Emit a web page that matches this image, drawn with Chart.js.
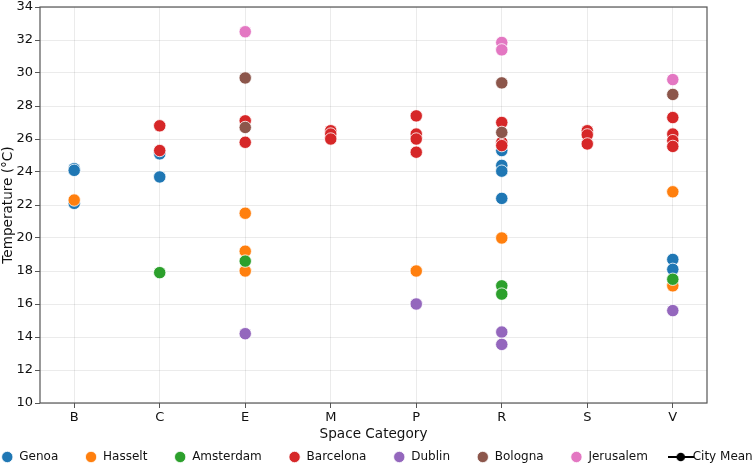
<!DOCTYPE html>
<html>
<head>
<meta charset="utf-8">
<script src="https://cdn.jsdelivr.net/npm/chart.js@4/dist/chart.umd.min.js"></script>
<style>
  html, body { margin: 0; padding: 0; background: #fff; }
  #box { width: 754px; height: 466px; }
</style>
</head>
<body>
<div id="box"><canvas id="myChart"></canvas></div>
<script>
// categories on the x axis
const categories = ["B", "C", "E", "M", "P", "R", "S", "V"];

// one pair of arrays per city: space category + temperature (°C)
const genoaSpace = ["B", "B", "B", "C", "C", "R", "R", "R", "R", "V", "V"];
const genoaTemp = [24.2, 24.1, 22.1, 25.1, 23.7, 25.3, 24.4, 24.05, 22.4, 18.7, 18.1];

const hasseltSpace = ["B", "E", "E", "E", "P", "R", "V", "V"];
const hasseltTemp = [22.3, 21.5, 19.2, 18.0, 18.0, 20.0, 22.8, 17.1];

const amsterdamSpace = ["C", "E", "R", "R", "V"];
const amsterdamTemp = [17.9, 18.6, 17.1, 16.6, 17.5];

const barcelonaSpace = ["C", "C", "E", "E", "M", "M", "M", "P", "P", "P", "P", "R", "R", "R", "S", "S", "S", "V", "V", "V", "V"];
const barcelonaTemp = [26.8, 25.3, 27.1, 25.8, 26.5, 26.3, 26.0, 27.4, 26.3, 26.0, 25.2, 27.0, 25.8, 25.6, 26.5, 26.25, 25.7, 27.3, 26.3, 25.9, 25.55];

const dublinSpace = ["E", "P", "R", "R", "V"];
const dublinTemp = [14.2, 16.0, 14.3, 13.55, 15.6];

const bolognaSpace = ["E", "E", "R", "R", "V"];
const bolognaTemp = [29.7, 26.7, 29.4, 26.4, 28.7];

const jerusalemSpace = ["E", "R", "R", "V"];
const jerusalemTemp = [32.5, 31.85, 31.4, 29.6];

const cityNames = ["Genoa", "Hasselt", "Amsterdam", "Barcelona", "Dublin", "Bologna", "Jerusalem"];
const citySpaces = [genoaSpace, hasseltSpace, amsterdamSpace, barcelonaSpace, dublinSpace, bolognaSpace, jerusalemSpace];
const cityTemps = [genoaTemp, hasseltTemp, amsterdamTemp, barcelonaTemp, dublinTemp, bolognaTemp, jerusalemTemp];
const cityColors = ["#1f77b4", "#ff7f0e", "#2ca02c", "#d62728", "#9467bd", "#8c564b", "#e377c2"];

Chart.defaults.font.family = "'DejaVu Sans', sans-serif";
Chart.defaults.color = "#111";

// legend glyph for "City Mean": short black line with a dot
let meanGlyph = document.createElement("canvas");
meanGlyph.width = 26;
meanGlyph.height = 10;
let g = meanGlyph.getContext("2d");
g.strokeStyle = "#000";
g.lineWidth = 2;
g.beginPath();
g.moveTo(0, 5);
g.lineTo(26, 5);
g.stroke();
g.fillStyle = "#000";
g.beginPath();
g.arc(13, 5, 4.3, 0, Math.PI * 2);
g.fill();

let datasets = cityNames.map((name, i) => ({
    label: name,
    data: citySpaces[i].map((s, j) => ({ x: categories.indexOf(s), y: cityTemps[i][j] })),
    backgroundColor: cityColors[i],
    borderColor: "#fff",
    borderWidth: 0.8,
    pointRadius: 6.2,
    pointHoverRadius: 6.2,
    pointStyle: "circle",
    order: -i, // later cities drawn on top
}));
datasets.push({
    label: "City Mean",
    data: [],
    backgroundColor: "#000",
    borderColor: "#000",
    pointStyle: meanGlyph,
    order: -10,
});

const LEGEND_PAD = 26.8;

// legend: one row across the whole canvas; spines on top/right
const frame = {
    id: "frame",
    afterInit(chart) {
        let lg = chart.legend;
        let fit = lg.fit;
        lg.fit = function () {
            this.maxWidth = 2000; // keep everything on one row
            fit.call(this);
        };
    },
    afterLayout(chart) {
        let lg = chart.legend;
        lg.left = -60;
        lg.right = chart.width + 60;
        lg.width = chart.width + 120;
        lg.top = lg.top + 7 - LEGEND_PAD;
    },
    afterDraw(chart) {
        let a = chart.chartArea;
        let c = chart.ctx;
        c.save();
        c.strokeStyle = "#555";
        c.lineWidth = 1.2;
        c.strokeRect(a.left, a.top, a.right - a.left, a.bottom - a.top);
        c.restore();
    },
};

let ctx = document.getElementById("myChart").getContext("2d");
let myChart = new Chart(ctx, {
    type: "scatter",
    data: { datasets: datasets },
    options: {
        responsive: true,
        maintainAspectRatio: false,
        animation: false,
        layout: { padding: { left: 0, right: 47, top: 6, bottom: 0 } },
        scales: {
            x: {
                type: "linear",
                min: -0.4,
                max: categories.length - 0.6,
                afterBuildTicks: (scale) => {
                    scale.ticks = categories.map((c, i) => ({ value: i }));
                },
                afterFit: (scale) => { scale.height = 41; },
                ticks: {
                    callback: (v) => categories[v],
                    font: { size: 13 },
                    color: "#111",
                    padding: 2,
                    maxRotation: 0,
                },
                grid: { color: "rgba(0,0,0,0.08)", tickColor: "#555", tickLength: 5 },
                border: { display: false },
                title: { display: true, text: "Space Category", font: { size: 13.6 }, color: "#111", padding: { top: 2, bottom: 1 } },
            },
            y: {
                min: 10,
                max: 34,
                afterFit: (scale) => {
                    scale.width = 40;
                    scale.paddingTop = 0;
                    scale.paddingBottom = 0;
                },
                ticks: { stepSize: 2, font: { size: 13 }, color: "#111", padding: 2 },
                grid: { color: "rgba(0,0,0,0.08)", tickColor: "#555", tickLength: 5 },
                border: { display: false },
                title: { display: true, text: "Temperature (°C)", font: { size: 13.6 }, color: "#111", padding: { top: 0, bottom: 1 } },
            },
        },
        plugins: {
            tooltip: { enabled: false },
            legend: {
                position: "bottom",
                maxHeight: 22,
                labels: {
                    usePointStyle: true,
                    boxWidth: 12,
                    boxHeight: 8,
                    padding: LEGEND_PAD,
                    font: { size: 12 },
                    color: "#111",
                    sort: (a, b) => a.datasetIndex - b.datasetIndex,
                },
            },
        },
    },
    plugins: [frame],
});
</script>
</body>
</html>
